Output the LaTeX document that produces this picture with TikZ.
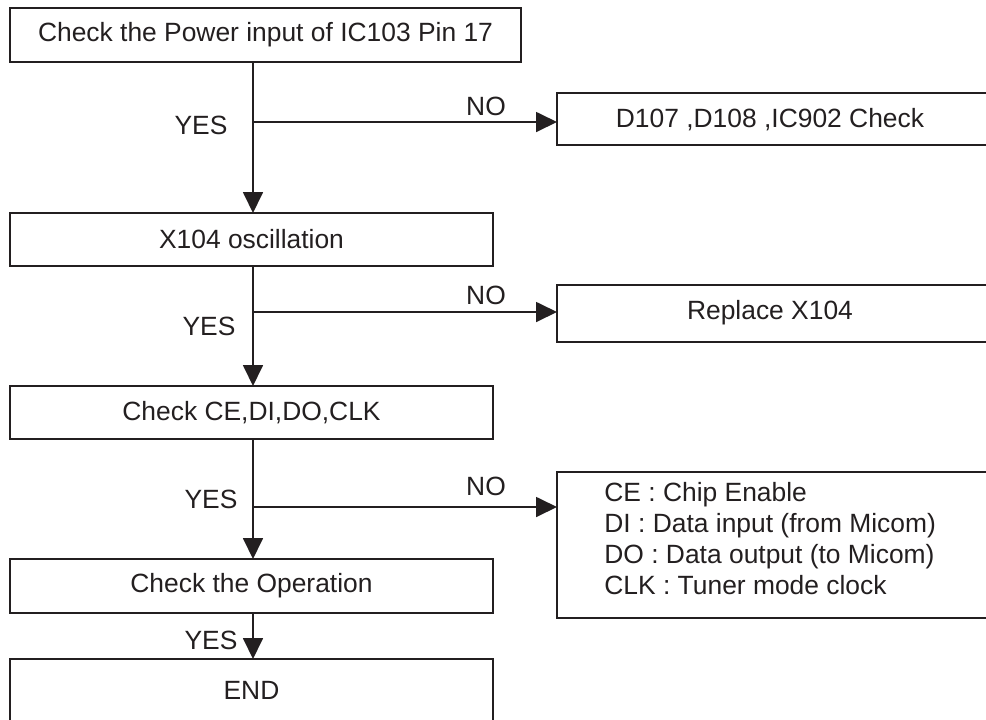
\documentclass[tikz,border=0pt]{standalone}
\usepackage{fontspec}
\setmainfont{Liberation Sans}
\usetikzlibrary{arrows.meta}
\definecolor{ink}{HTML}{231F20}
\begin{document}
\begin{tikzpicture}[x=0.5pt,y=-0.5pt,
  box/.style={draw=ink,line width=1.1pt,inner sep=0pt,outer sep=0pt,anchor=north west,font=\fontsize{13.2pt}{15.5pt}\selectfont,text=ink},
  lbl/.style={inner sep=0pt,font=\fontsize{13.2pt}{15.5pt}\selectfont,text=ink},
  conn/.style={draw=ink,line width=0.9pt},
  arr/.style={conn,-{Triangle[length=10.5pt,width=10pt]}}]
\useasboundingbox (0,0) rectangle (986,719);
% main column boxes
\node[box,minimum width=511*0.5pt,minimum height=54*0.5pt] (b1) at (10,8) {Check the Power input of IC103 Pin 17};
\node[box,minimum width=483*0.5pt,minimum height=53*0.5pt] (b2) at (10,213) {X104 oscillation};
\node[box,minimum width=483*0.5pt,minimum height=53*0.5pt] (b3) at (10,386) {Check CE,DI,DO,CLK};
\node[box,minimum width=483*0.5pt,minimum height=54*0.5pt] (b4) at (10,559) {Check the Operation};
\node[box,minimum width=483*0.5pt,minimum height=62*0.5pt] (b5) at (10,659) {END};
% right boxes
\node[box,minimum width=440*0.5pt,minimum height=52*0.5pt] (r1) at (557,93) {};
\node[lbl] (r1t) at (770,120) {D107 ,D108 ,IC902 Check};
\node[box,minimum width=440*0.5pt,minimum height=57*0.5pt] (r2) at (557,285) {};
\node[lbl] (r2t) at (770,313) {Replace X104};
\node[box,minimum width=440*0.5pt,minimum height=146*0.5pt] (r3) at (557,472) {};
\node[lbl,anchor=north west,align=left,font=\fontsize{13.2pt}{15.5pt}\selectfont] (r3t) at (604,482)
  {CE : Chip Enable\\DI : Data input (from Micom)\\DO : Data output (to Micom)\\CLK : Tuner mode clock};
% junctions
\coordinate (j1) at (253,122);
\coordinate (j2) at (253,312);
\coordinate (j3) at (253,507);
% connectors
\draw[arr] (b1.south -| j1) -- (b2.north -| j1);
\draw[arr] (j1) -- (j1 -| r1.west);
\draw[arr] (b2.south -| j2) -- (b3.north -| j2);
\draw[arr] (j2) -- (j2 -| r2.west);
\draw[arr] (b3.south -| j3) -- (b4.north -| j3);
\draw[arr] (j3) -- (j3 -| r3.west);
\draw[arr] (b4.south -| j3) -- (b5.north -| j3);
% labels
\node[lbl] (y1) at (201,125) {YES};
\node[lbl] (n1) at (486,106) {NO};
\node[lbl] (y2) at (209,326) {YES};
\node[lbl] (n2) at (486,295) {NO};
\node[lbl] (y3) at (211,499) {YES};
\node[lbl] (n3) at (486,486) {NO};
\node[lbl] (y4) at (211,640) {YES};
\end{tikzpicture}
\end{document}
